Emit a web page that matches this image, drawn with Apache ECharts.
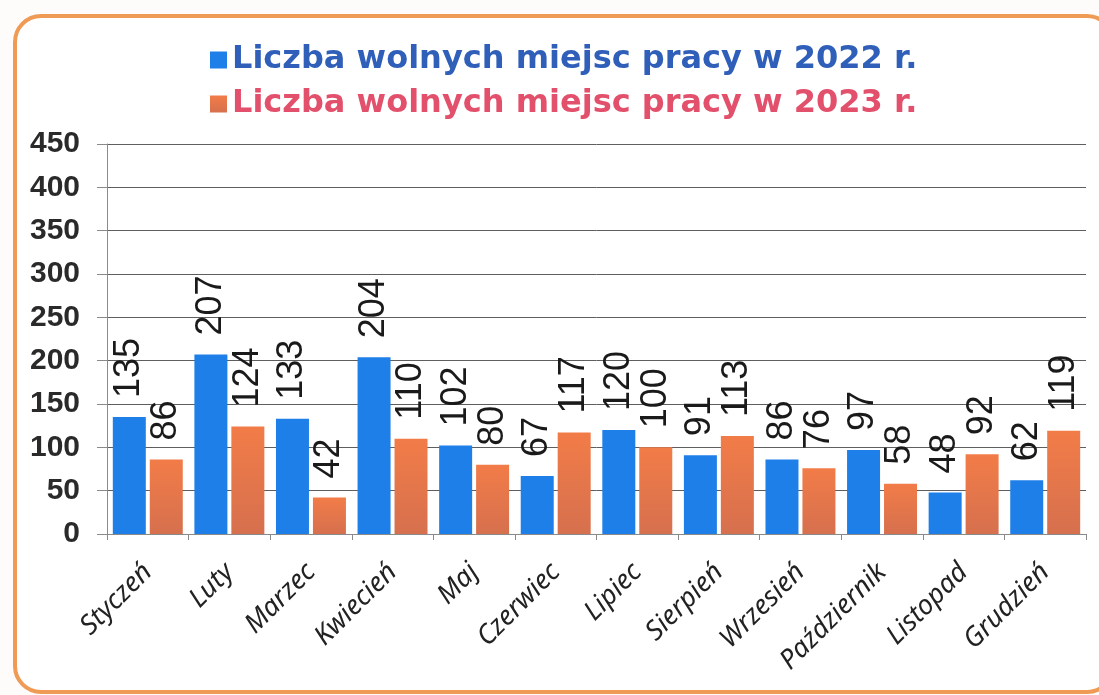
<!DOCTYPE html>
<html>
<head>
<meta charset="utf-8">
<script src="https://cdn.jsdelivr.net/npm/echarts@6/dist/echarts.min.js"></script>
<style>
  html, body { margin: 0; padding: 0; background: #fdfcfa; }
  #chart { width: 1099px; height: 695px; }
</style>
</head>
<body>
<div id="chart"></div>
<script>
// miesiace
const months = ['Styczeń', 'Luty', 'Marzec', 'Kwiecień', 'Maj', 'Czerwiec',
  'Lipiec', 'Sierpień', 'Wrzesień', 'Październik', 'Listopad', 'Grudzień']
const jobs2022 = [135, 207, 133, 204, 102, 67, 120, 91, 86, 97, 48, 62]
const jobs2023 = [86, 124, 42, 110, 80, 117, 100, 113, 76, 58, 92, 119]
const seriesNames = ['Liczba wolnych miejsc pracy w 2022 r.', 'Liczba wolnych miejsc pracy w 2023 r.']

const blue = '#1f7fe8'
const orange = new echarts.graphic.LinearGradient(0, 0, 0, 1, [
  { offset: 0, color: '#f27c48' },
  { offset: 1, color: '#d6704e' }
])

// etykiety pionowe nad slupkami
const barLabel = {
  show: true,
  position: 'top',
  rotate: 90,
  align: 'left',
  verticalAlign: 'middle',
  distance: 19,
  color: '#1a1a1a',
  fontSize: 36,
  fontFamily: 'Liberation Sans'
}

const chart = echarts.init(document.getElementById('chart'))
chart.setOption({
  backgroundColor: '#fdfcfa',
  animation: false,
  graphic: [{
    type: 'rect',
    left: 13,
    top: 14,
    shape: { width: 1098, height: 676, r: 26 },
    style: { fill: '#ffffff', stroke: '#ef9a55', lineWidth: 4 },
    z: -10
  }],
  legend: {
    orient: 'vertical',
    left: 205,
    top: 39,
    itemWidth: 17,
    itemHeight: 17,
    itemGap: 12,
    icon: 'rect',
    textStyle: { fontSize: 32, fontWeight: 'bold', fontFamily: 'DejaVu Sans' },
    data: [
      { name: seriesNames[0], textStyle: { color: '#2f5fb9' } },
      { name: seriesNames[1], textStyle: { color: '#e2506c' } }
    ]
  },
  grid: { left: 107, right: 13, top: 144, bottom: 161 },
  xAxis: {
    type: 'category',
    data: months,
    axisLine: { lineStyle: { color: '#8a8a8a' } },
    axisTick: { show: true, length: 6, lineStyle: { color: '#8a8a8a' } },
    axisLabel: {
      interval: 0,
      rotate: 45,
      margin: 34,
      fontSize: 27,
      fontStyle: 'italic',
      color: '#222',
      fontFamily: 'Noto Sans'
    }
  },
  yAxis: {
    type: 'value',
    min: 0,
    max: 450,
    interval: 50,
    axisLine: { show: true, lineStyle: { color: '#8a8a8a' } },
    axisTick: { show: true, length: 10, lineStyle: { color: '#8a8a8a' } },
    splitLine: { lineStyle: { color: '#5e5e5e' } },
    axisLabel: {
      margin: 27,
      fontSize: 30,
      fontWeight: 'bold',
      color: '#2a2a2a',
      fontFamily: 'Liberation Sans'
    }
  },
  series: [{
    name: seriesNames[0],
    type: 'bar',
    data: jobs2022,
    barWidth: 33,
    barGap: '12%',
    itemStyle: { color: blue },
    label: barLabel
  }, {
    name: seriesNames[1],
    type: 'bar',
    data: jobs2023,
    barWidth: 33,
    itemStyle: { color: orange },
    label: barLabel
  }]
})
</script>
</body>
</html>
